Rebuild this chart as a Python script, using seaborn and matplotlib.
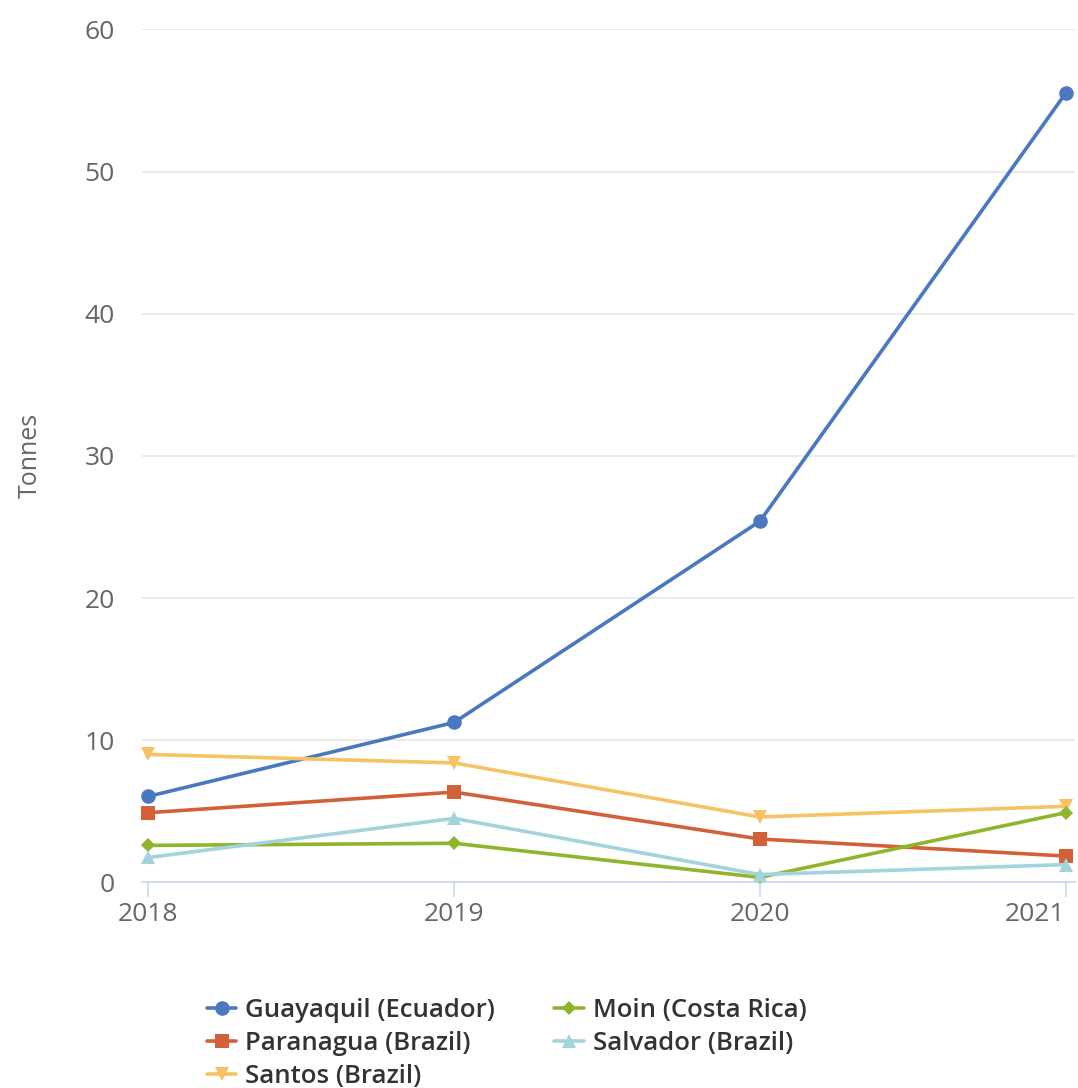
import matplotlib
matplotlib.use("Agg")
import matplotlib.pyplot as plt
import seaborn as sns
import pandas as pd

years = [2018, 2019, 2020, 2021]
guayaquil = [6.05, 11.25, 25.4, 55.5]
paranagua = [4.9, 6.35, 3.05, 1.85]
santos = [9.0, 8.4, 4.6, 5.35]
moin = [2.6, 2.75, 0.35, 4.9]
salvador = [1.75, 4.5, 0.55, 1.25]

series_names = ["Guayaquil (Ecuador)", "Paranagua (Brazil)", "Santos (Brazil)",
                "Moin (Costa Rica)", "Salvador (Brazil)"]
series_values = [guayaquil, paranagua, santos, moin, salvador]
colors = ["#4a78c0", "#d4603a", "#f6c263", "#8fb52a", "#a3d3dd"]
markers = ["o", "s", "v", "D", "^"]
msizes = [10.5, 10, 10.5, 7.5, 10.5]

sns.set_theme(style="white")
plt.rcParams["font.family"] = ["Open Sans", "DejaVu Sans"]

fig = plt.figure(figsize=(10.78, 10.88), dpi=100)
ax = fig.add_axes([0.132, 0.189, 0.865, 0.784])

for name, vals, c, m, ms in zip(series_names, series_values, colors, markers, msizes):
    df = pd.DataFrame({"year": years, "value": vals})
    sns.lineplot(data=df, x="year", y="value", ax=ax, color=c, marker=m,
                 markersize=ms, markeredgewidth=0, linewidth=2.6, label=name,
                 legend=False, clip_on=False, zorder=3)

ax.set_ylim(0, 60)
ax.set_xlim(2017.98, 2021.03)
ax.set_yticks(range(0, 61, 10))
ax.set_xticks(years)
ax.set_xticklabels([str(y) for y in years])
ax.yaxis.grid(True, color="#e6e6e6", linewidth=1.2)
ax.xaxis.grid(False)
for s in ["top", "right", "left"]:
    ax.spines[s].set_visible(False)
ax.spines["bottom"].set_color("#ccd6eb")
ax.spines["bottom"].set_linewidth(1.2)
ax.tick_params(axis="y", length=0, labelsize=19, labelcolor="#666666", pad=20)
ax.tick_params(axis="x", length=11, width=1.2, color="#ccd6eb", labelsize=19,
               labelcolor="#666666", pad=3, bottom=True, direction="out")
xlabels = ax.get_xticklabels()
xlabels[-1].set_horizontalalignment("right")
xlabels[-1].set_x(2021.0)
ax.set_xlabel("")
ax.set_ylabel("Tonnes", fontsize=18, color="#666666", labelpad=30)

handles, labels = [], []
for line in ax.get_lines():
    handles.append(line)
    labels.append(line.get_label())
leg = fig.legend(handles, labels, ncol=2, loc="lower center",
                 bbox_to_anchor=(0.47, -0.022), frameon=False,
                 prop={"size": 18.5, "weight": "semibold"}, handlelength=1.15,
                 columnspacing=2.3, labelspacing=0.3, handletextpad=0.35)
for t in leg.get_texts():
    t.set_color("#333333")

fig.savefig("out.png", dpi=100, facecolor="white")
